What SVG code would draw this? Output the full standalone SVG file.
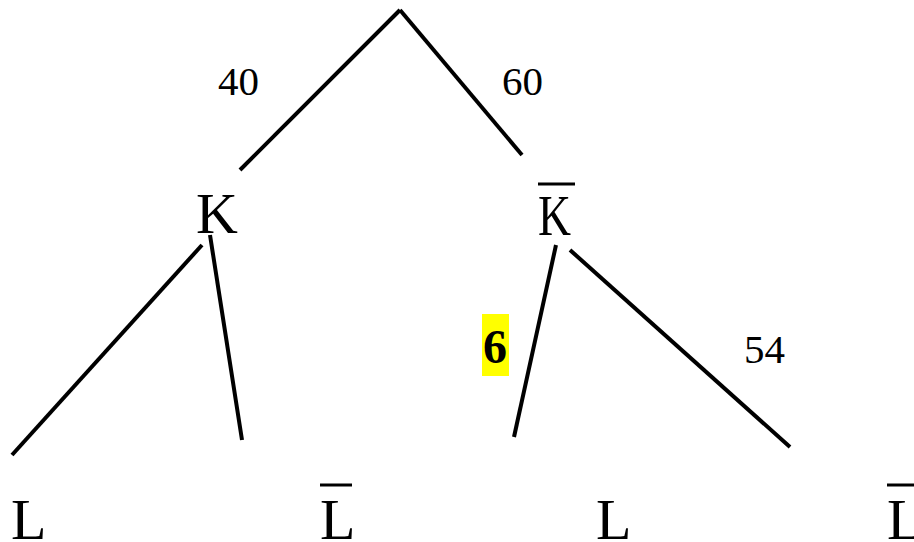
<svg xmlns="http://www.w3.org/2000/svg" width="914" height="542" viewBox="0 0 914 542">
<style>
.e{stroke:#000;stroke-width:4;fill:none}
.big{font-family:"Liberation Serif",serif;font-size:58px;fill:#000}
.num{font-family:"Liberation Serif",serif;font-size:41px;fill:#000}
.bar{stroke:#000;stroke-width:3}
</style>
<rect width="914" height="542" fill="#fff"/>
<g id="connectors">
<line class="e" x1="400" y1="10" x2="240" y2="170"/>
<line class="e" x1="400" y1="10" x2="522" y2="155"/>
<line class="e" x1="202" y1="245" x2="12" y2="455"/>
<line class="e" x1="210" y1="235" x2="242" y2="440"/>
<line class="e" x1="556" y1="245" x2="514" y2="437"/>
<line class="e" x1="570" y1="250" x2="790" y2="447"/>
</g>
<g id="label40"><text class="num" x="218" y="95">40</text></g>
<g id="label60"><text class="num" x="502" y="95">60</text></g>
<g id="label54"><text class="num" x="744" y="363">54</text></g>
<g id="label6"><rect x="482" y="314" width="27" height="62" fill="#ffff00"/><text x="483" y="363" font-family="Liberation Serif,serif" font-weight="bold" font-size="48" fill="#000">6</text></g>
<g id="K"><text class="big" x="196" y="233">K</text></g>
<g id="Kbar"><line class="bar" x1="538" y1="184" x2="575" y2="184"/><text class="big" x="538" y="235" textLength="33" lengthAdjust="spacingAndGlyphs">K</text></g>
<g id="L1"><text class="big" x="11" y="539">L</text></g>
<g id="Lbar1"><line class="bar" x1="320" y1="485" x2="352" y2="485"/><text class="big" x="320" y="539">L</text></g>
<g id="L2"><text class="big" x="596" y="539">L</text></g>
<g id="Lbar2"><line class="bar" x1="887" y1="485" x2="914" y2="485"/><text class="big" x="887" y="539">L</text></g>
</svg>
